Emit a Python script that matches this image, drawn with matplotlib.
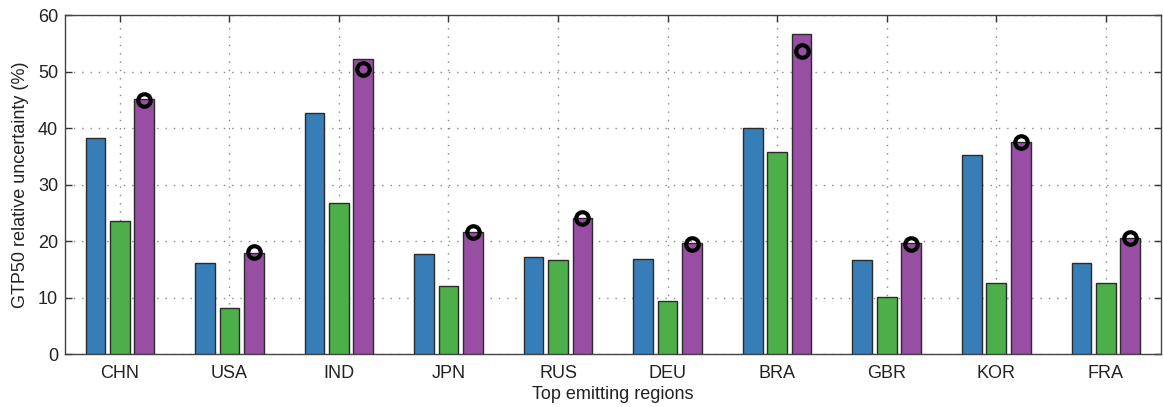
import matplotlib
matplotlib.use("Agg")
import matplotlib.pyplot as plt
import numpy as np

regions = ["CHN", "USA", "IND", "JPN", "RUS", "DEU", "BRA", "GBR", "KOR", "FRA"]
blue_vals = [38.2, 16.2, 42.7, 17.8, 17.2, 16.9, 40.1, 16.6, 35.2, 16.1]
green_vals = [23.6, 8.2, 26.8, 12.1, 16.7, 9.4, 35.8, 10.1, 12.6, 12.6]
purple_vals = [45.2, 17.9, 52.3, 21.6, 24.1, 19.6, 56.7, 19.6, 37.6, 20.6]
circle_vals = [45.0, 18.1, 50.5, 21.6, 24.0, 19.4, 53.7, 19.4, 37.5, 20.5]
yticks = [0, 10, 20, 30, 40, 50, 60]

plt.rcParams['font.family'] = ['Liberation Sans', 'DejaVu Sans']

fig = plt.figure(figsize=(11.63, 4.07), dpi=100)
ax = fig.add_axes([0.0559, 0.130, 0.9421, 0.833])

x = np.arange(1, len(regions) + 1)
off = 0.223
w = 0.18
ec = '#2b2b2b'
ax.bar(x - off, blue_vals, w, color='#377eb8', edgecolor=ec, linewidth=1.0, zorder=3)
ax.bar(x, green_vals, w, color='#4daf4a', edgecolor=ec, linewidth=1.0, zorder=3)
ax.bar(x + off, purple_vals, w, color='#984ea3', edgecolor=ec, linewidth=1.0, zorder=3)
ax.plot(x + off, circle_vals, linestyle='none', marker='o', markersize=9,
        markerfacecolor='none', markeredgecolor='black', markeredgewidth=3, zorder=4)

ax.set_xlim(0.5, 10.5)
ax.set_ylim(0, 60)
ax.set_xticks(x)
ax.set_xticklabels(regions)
ax.set_yticks(yticks)
ax.grid(True, linestyle=(0, (1, 5)), color='#888888', linewidth=1.0, zorder=0)
ax.tick_params(direction='in', top=True, right=True, length=5, width=1,
               labelsize=13, colors='#333333', labelcolor='#222222')
ax.tick_params(axis='x', pad=8)
ax.tick_params(axis='y', pad=5)
for s in ax.spines.values():
    s.set_color('#444444')
    s.set_linewidth(1.0)
ax.set_ylabel("GTP50 relative uncertainty (%)", fontsize=13, color='#222222', labelpad=6)
ax.set_xlabel("Top emitting regions", fontsize=13, color='#222222', labelpad=3)

fig.savefig("out.png", dpi=100)
